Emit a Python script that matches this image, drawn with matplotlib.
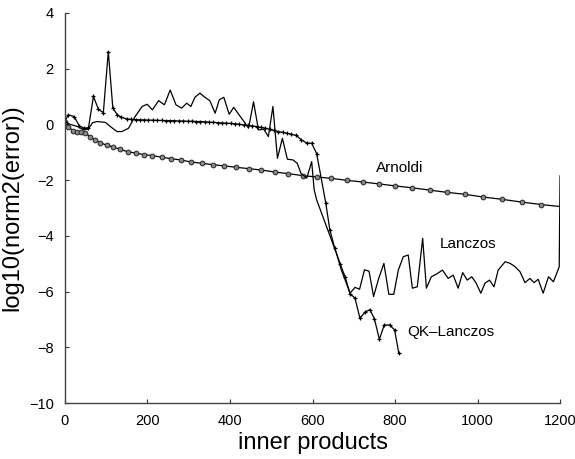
import matplotlib
matplotlib.use("Agg")
import matplotlib.pyplot as plt

plt.rcParams['font.family'] = ['Liberation Sans', 'DejaVu Sans']

# Arnoldi (circle markers)
arnoldi_x = [0, 8, 19, 28, 38, 48, 61, 73, 86, 101, 117, 134, 153, 172, 192, 212,
             234, 257, 281, 305, 332, 359, 386, 414, 445, 476, 508, 541, 576, 610,
             646, 683, 722, 762, 801, 842, 884, 925, 969, 1014, 1059, 1107, 1155, 1200]
arnoldi_y = [0.1, -0.08, -0.23, -0.26, -0.29, -0.30, -0.44, -0.56, -0.66, -0.75, -0.81,
             -0.90, -0.99, -1.03, -1.09, -1.12, -1.18, -1.23, -1.28, -1.35, -1.40, -1.45,
             -1.49, -1.54, -1.59, -1.64, -1.71, -1.77, -1.84, -1.89, -1.94, -2.01, -2.07,
             -2.14, -2.21, -2.28, -2.36, -2.44, -2.51, -2.61, -2.69, -2.79, -2.88, -2.95]

# Lanczos (plain line)
lanczos_x = [0, 12, 31, 43, 56, 67, 78, 98, 110, 126, 138, 154, 170, 187, 199, 212,
             227, 241, 255, 269, 283, 295, 305, 315, 327, 339, 351, 364, 374, 385,
             398, 409, 422, 434, 445, 457, 469, 482, 493, 504, 515, 527, 539, 553,
             563, 572, 586, 598, 604, 610, 622, 634, 646, 658, 670, 682, 691, 703,
             714, 726, 737, 748, 760, 773, 785, 797, 808, 820, 832, 842, 854, 867,
             876, 888, 901, 915, 929, 941, 953, 964, 975, 986, 996, 1008, 1018, 1029,
             1040, 1050, 1067, 1079, 1091, 1103, 1115, 1127, 1137, 1147, 1159, 1172,
             1184, 1198, 1200]
lanczos_y = [0.1, 0.0, -0.08, -0.18, -0.18, 0.06, 0.1, 0.07, -0.08, -0.26, -0.26, -0.14,
             0.28, 0.64, 0.72, 0.52, 0.85, 0.7, 1.23, 0.7, 0.58, 0.76, 0.64, 0.97, 1.12,
             0.97, 0.85, 0.4, 0.88, 0.97, 0.36, 0.61, 0.34, 0.1, -0.14, 0.81, -0.2,
             -0.18, -0.44, 0.64, -1.22, -0.5, -1.25, -1.28, -1.4, -1.76, -1.93, -1.34,
             -2.35, -2.71, -3.19, -3.67, -4.15, -4.63, -5.23, -5.7, -6.06, -5.85, -5.92,
             -5.22, -5.27, -6.18, -5.55, -4.99, -6.1, -6.1, -5.23, -4.75, -4.69, -5.88,
             -5.83, -4.09, -5.88, -5.47, -5.37, -5.23, -5.53, -5.41, -5.88, -5.32, -5.59,
             -5.47, -5.68, -6.06, -5.7, -5.59, -5.83, -5.23, -4.93, -4.99, -5.11, -5.29,
             -5.68, -5.53, -5.68, -5.56, -6.06, -5.47, -5.65, -5.11, -1.85]

# QK-Lanczos (plus markers)
qk_x = [0, 8, 22, 35, 46, 57, 69, 81, 93, 105, 116, 127, 137, 150, 160, 171, 181, 192,
        202, 213, 223, 234, 244, 255, 265, 276, 286, 297, 307, 318, 328, 339, 349, 360,
        370, 381, 391, 402, 412, 423, 433, 444, 454, 465, 475, 486, 496, 507, 517, 528,
        538, 549, 561, 573, 586, 598, 610, 632, 642, 654, 667, 679, 691, 703, 715, 727,
        739, 750, 762, 774, 787, 799, 809]
qk_y = [0.1, 0.34, 0.28, -0.06, -0.14, -0.12, 1.0, 0.54, 0.42, 2.61, 0.58, 0.34, 0.25,
        0.19, 0.18, 0.17, 0.16, 0.16, 0.15, 0.15, 0.14, 0.14, 0.13, 0.13, 0.13, 0.12,
        0.12, 0.11, 0.11, 0.10, 0.10, 0.09, 0.08, 0.07, 0.06, 0.05, 0.04, 0.03, 0.02,
        0.0, -0.02, -0.04, -0.06, -0.08, -0.11, -0.14, -0.18, -0.22, -0.26, -0.29,
        -0.32, -0.36, -0.40, -0.56, -0.67, -0.68, -1.05, -2.81, -3.79, -4.45, -5.01,
        -5.47, -6.08, -6.24, -6.96, -6.74, -6.65, -6.98, -7.71, -7.2, -7.2, -7.38, -8.2]

xticks = [0, 200, 400, 600, 800, 1000, 1200]
yticks = [-10, -8, -6, -4, -2, 0, 2, 4]

fig = plt.figure(figsize=(5.75, 4.59), dpi=100)
ax = fig.add_axes([0.113, 0.122, 0.861, 0.850])

ax.plot(arnoldi_x, arnoldi_y, color='black', linewidth=0.9, marker='o',
        markersize=3.4, markerfacecolor='#8a8a8a', markeredgecolor='#222222',
        markeredgewidth=0.7, markevery=list(range(len(arnoldi_x) - 1)))
ax.plot(lanczos_x, lanczos_y, color='black', linewidth=0.9)
ax.plot(qk_x, qk_y, color='black', linewidth=0.9, marker='+', markersize=3.5,
        markeredgewidth=0.9)

ax.text(755, -1.55, 'Arnoldi', fontsize=11, va='center', ha='left')
ax.text(909, -4.3, 'Lanczos', fontsize=11, va='center', ha='left')
ax.text(830, -7.47, 'QK\u2013Lanczos', fontsize=11, va='center', ha='left')

ax.set_xlim(0, 1200)
ax.set_ylim(-10, 4)
ax.set_xticks(xticks)
ax.set_yticks(yticks)
ax.tick_params(direction='in', length=3, width=0.8, labelsize=10.5, pad=8,
               color='#333333')
for side in ['top', 'right']:
    ax.spines[side].set_visible(False)
for side in ['left', 'bottom']:
    ax.spines[side].set_color('#444444')
    ax.spines[side].set_linewidth(1.0)

ax.set_xlabel('inner products', fontsize=17, labelpad=3)
ax.set_ylabel('log10(norm2(error))', fontsize=17, labelpad=4)

fig.savefig('out.png', dpi=100)
